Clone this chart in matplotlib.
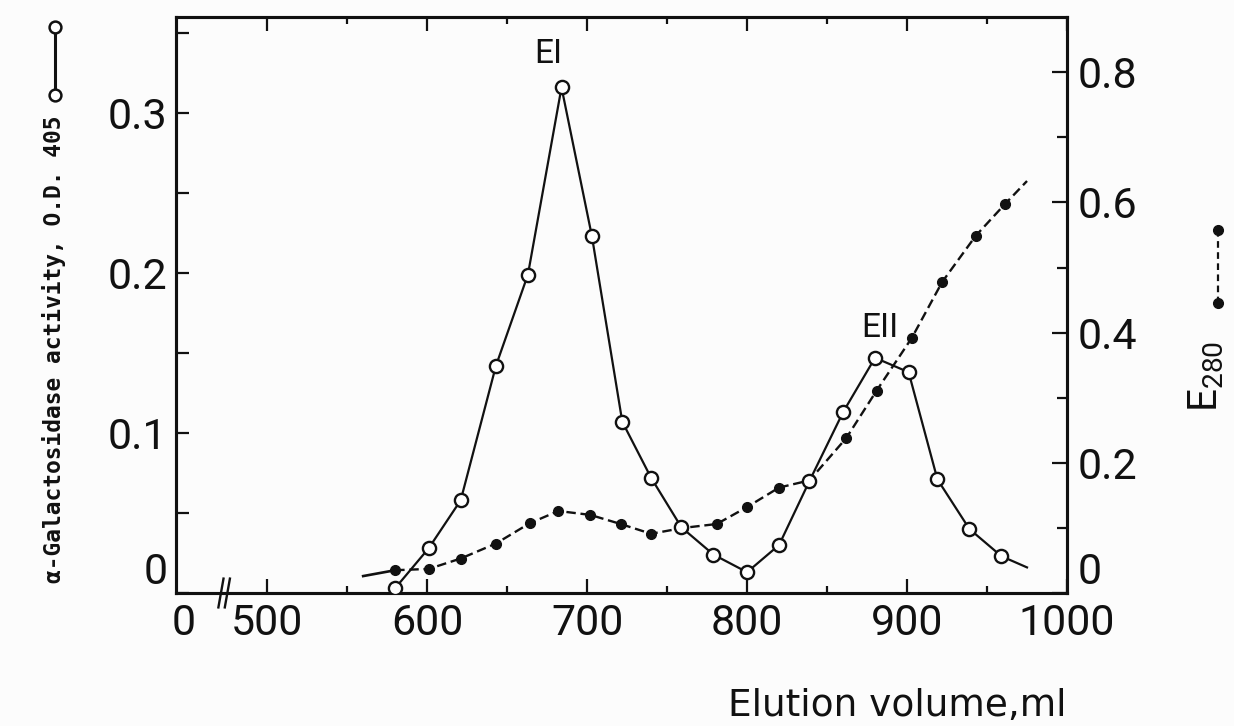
import numpy as np
import matplotlib
matplotlib.use('Agg')
import matplotlib.pyplot as plt
from matplotlib.lines import Line2D
from matplotlib.ticker import MultipleLocator, FixedLocator

# =====================================
# 1. Data
# =====================================
# alpha-galactosidase activity (O.D. 405), left axis
vol_enz = [580, 601, 621, 643, 663, 684, 703, 722, 740, 759,
           779, 800, 820, 839, 860, 880, 901, 919, 939, 959, 975]
od405 = [0.003, 0.028, 0.058, 0.142, 0.199, 0.316, 0.223, 0.107, 0.072, 0.041,
         0.024, 0.013, 0.030, 0.070, 0.113, 0.147, 0.138, 0.071, 0.040, 0.023, 0.016]

# protein E280, right axis (first and last entries are line ends, no marker)
vol_prot = [560, 580, 601, 621, 643, 664, 682, 702, 721, 740, 760,
            781, 800, 820, 839, 862, 881, 903, 922, 943, 961, 975]
e280 = [0.026, 0.035, 0.037, 0.053, 0.076, 0.107, 0.126, 0.120, 0.106, 0.091, 0.100,
        0.106, 0.132, 0.162, 0.173, 0.238, 0.311, 0.392, 0.478, 0.549, 0.597, 0.633]

x_ticks = [448, 500, 600, 700, 800, 900, 1000]
x_labels = ['0', '500', '600', '700', '800', '900', '1000']
left_ticks = [0, 0.1, 0.2, 0.3]
left_labels = ['0', '0.1', '0.2', '0.3']
right_ticks = [0, 0.2, 0.4, 0.6, 0.8]
right_labels = ['0', '0.2', '0.4', '0.6', '0.8']

peaks = {'EI': (676, 0.331), 'EII': (883, 0.160)}

# =====================================
# 2. Style
# =====================================
ink = '#111111'
plt.rcParams['font.family'] = ['Roboto', 'DejaVu Sans']
plt.rcParams['text.color'] = ink
plt.rcParams['axes.edgecolor'] = ink
plt.rcParams['xtick.color'] = ink
plt.rcParams['ytick.color'] = ink

W, H = 1234, 726
fig = plt.figure(figsize=(W / 100, H / 100), dpi=100, facecolor='#fcfcfc')
ax = fig.add_axes([176 / W, 1 - 593 / H, (1067 - 176) / W, (593 - 17) / H])
ax.set_facecolor('none')
ax2 = ax.twinx()

# =====================================
# 3. Curves
# =====================================
n_enz = len(vol_enz)
ax.plot(vol_enz, od405, '-', color=ink, lw=1.6, marker='o', ms=9.5, mfc='white',
        mec=ink, mew=1.7, markevery=list(range(n_enz - 1)), zorder=5)

ax2.plot(vol_prot[:2], e280[:2], '-', color=ink, lw=1.9, zorder=3)
ax2.plot(vol_prot[1:], e280[1:], '--', color=ink, lw=1.7, dashes=(4, 2),
         marker='o', ms=7, mfc=ink, mec=ink,
         markevery=list(range(len(vol_prot) - 2)), zorder=3)
ax2.set_zorder(1)
ax.set_zorder(2)

# =====================================
# 4. Axes
# =====================================
ax.set_xlim(443, 1000)
ax.set_ylim(0, 0.36)
ax2.set_ylim(0, 0.885)

ax.set_xticks(x_ticks)
ax.set_xticklabels(x_labels)
ax.xaxis.set_minor_locator(FixedLocator([550, 650, 750, 850, 950]))
ax.set_yticks(left_ticks)
ax.set_yticklabels(left_labels)
ax.yaxis.set_minor_locator(MultipleLocator(0.05))
ax2.set_yticks(right_ticks)
ax2.set_yticklabels(right_labels)
ax2.yaxis.set_minor_locator(MultipleLocator(0.1))

ax.tick_params(axis='x', which='major', direction='in', length=10, width=1.6,
               top=True, labelsize=31, pad=7)
ax.tick_params(axis='x', which='minor', direction='in', length=5, width=1.6, top=True)
ax.tick_params(axis='y', which='both', direction='in', length=9, width=1.6,
               right=False, labelsize=31, pad=6)
ax2.tick_params(axis='y', which='major', direction='in', length=11, width=1.6,
                labelsize=31, pad=8)
ax2.tick_params(axis='y', which='minor', direction='in', length=7, width=1.6)

for a in (ax, ax2):
    for s in a.spines.values():
        s.set_linewidth(2.2)

# "0" labels on the y axes sit above the baseline
ax.yaxis.get_major_ticks()[0].label1.set_va('bottom')
ax2.yaxis.get_major_ticks()[0].label2.set_va('bottom')
# no tick mark at the broken-axis zero
ax.xaxis.get_major_ticks()[0].tick1line.set_visible(False)
ax.xaxis.get_major_ticks()[0].tick2line.set_visible(False)

# axis break marks
trans = ax.get_xaxis_transform()
for x0 in (469.5, 473.5):
    ax.plot([x0, x0 + 3.2], [-0.025, 0.025], color=ink, lw=1.7,
            transform=trans, clip_on=False)

for name, (x, y) in peaks.items():
    ax.text(x, y, name, ha='center', va='baseline', fontsize=24)

# =====================================
# 5. Axis titles and keys
# =====================================
fig.text(54 / W, 1 - 349 / H, 'α-Galactosidase activity, O.D. 405', rotation=90,
         family='DejaVu Sans Mono', weight='bold', fontsize=16.5,
         ha='center', va='center')
fig.add_artist(Line2D([55 / W, 55 / W], [1 - 27 / H, 1 - 95 / H], transform=fig.transFigure,
                      color=ink, lw=2.2, marker='o', ms=8.5, mfc='white', mec=ink, mew=1.8))

fig.text(1206 / W, 1 - 376 / H, r'E$\mathregular{_{280}}$', rotation=90,
         fontsize=29, ha='center', va='center')
fig.add_artist(Line2D([1218 / W, 1218 / W], [1 - 230 / H, 1 - 303 / H],
                      transform=fig.transFigure, color=ink, lw=1.6, ls='--',
                      dashes=(3, 2), marker='o', ms=7, mfc=ink, mec=ink))

fig.text(1067 / W, 1 - 716 / H, 'Elution volume,ml', ha='right', va='baseline',
         family='DejaVu Sans', fontsize=27)

fig.savefig('out.png', dpi=100, facecolor=fig.get_facecolor())
